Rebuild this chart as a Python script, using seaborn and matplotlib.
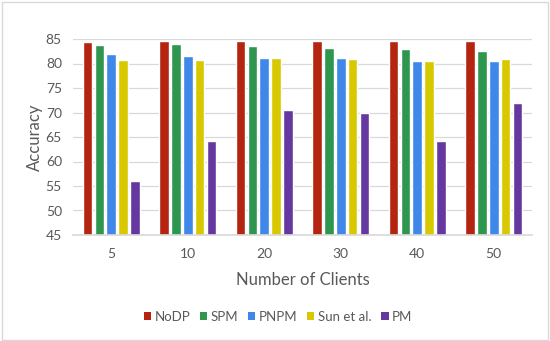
import matplotlib
matplotlib.use("Agg")
import matplotlib.pyplot as plt
import seaborn as sns
import pandas as pd
from matplotlib.patches import Patch

clients = ["5", "10", "20", "30", "40", "50"]
series = ["NoDP", "SPM", "PNPM", "Sun et al.", "PM"]
nodp = [84.4, 84.6, 84.5, 84.5, 84.5, 84.5]
spm = [83.8, 84.0, 83.6, 83.2, 82.9, 82.6]
pnpm = [81.9, 81.5, 81.1, 81.1, 80.5, 80.6]
sun = [80.7, 80.7, 81.2, 80.9, 80.6, 80.9]
pm = [56.1, 64.1, 70.5, 70.0, 64.2, 72.0]
colors = ["#B42410", "#2F9650", "#3F88EA", "#D8C800", "#6538A0"]

rows = []
for name, vals in zip(series, [nodp, spm, pnpm, sun, pm]):
    for c, v in zip(clients, vals):
        rows.append({"Clients": c, "Method": name, "Accuracy": v})
df = pd.DataFrame(rows)

sns.set_theme(style="white")
plt.rcParams["font.family"] = ["Lato", "DejaVu Sans"]

fig = plt.figure(figsize=(5.5, 3.41), dpi=100)
ax = fig.add_axes([73/550, 1-235/341, (532-73)/550, (235-39)/341])

sns.barplot(data=df, x="Clients", y="Accuracy", hue="Method", order=clients,
            hue_order=series, palette=colors, width=0.78, gap=0.2,
            saturation=1, ax=ax, legend=False, errorbar=None)

ax.set_ylim(45, 85)
ax.set_yticks(range(45, 90, 5))
ax.yaxis.grid(True, color="#D9D9D9", linewidth=0.9)
ax.set_axisbelow(True)
for s in ["top", "right", "left"]:
    ax.spines[s].set_visible(False)
ax.spines["bottom"].set_color("#D9D9D9")
ax.tick_params(axis="both", length=0, colors="#595959", labelsize=10)
ax.tick_params(axis="x", pad=9)
ax.tick_params(axis="y", pad=8)
ax.set_xlabel("Number of Clients", fontsize=12, color="#595959", labelpad=9)
ax.set_ylabel("Accuracy", fontsize=12, color="#595959", labelpad=2)

handles = [Patch(facecolor=c, edgecolor="none") for c in colors]
fig.legend(handles, series, loc="center", bbox_to_anchor=(278/550, 1-317/341),
           ncol=5, frameon=False, fontsize=9.5, handlelength=0.55, handleheight=0.55,
           handletextpad=0.25, columnspacing=0.75, labelcolor="#595959")

border = plt.Rectangle((0.004, 0.004), 0.992, 0.99, transform=fig.transFigure,
                       fill=False, edgecolor="#D9D9D9", linewidth=1)
fig.patches.append(border)

fig.savefig("out.png", dpi=100)
